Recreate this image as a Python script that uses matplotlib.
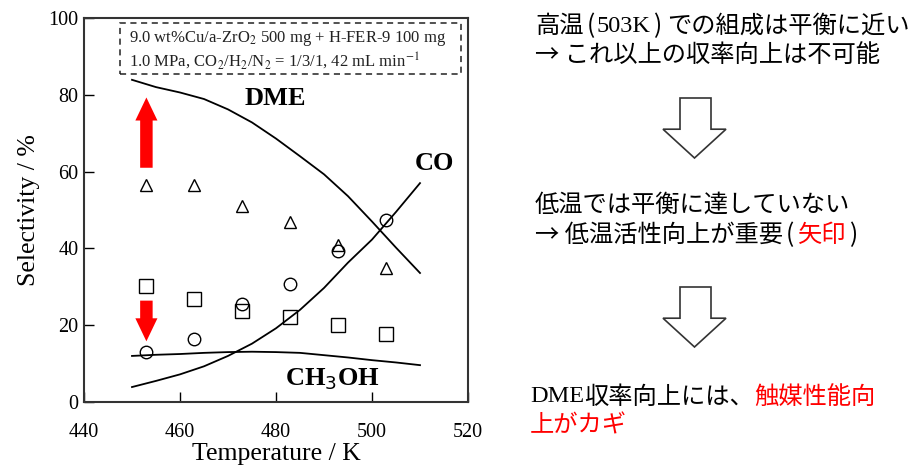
import matplotlib
matplotlib.use("Agg")
import matplotlib.pyplot as plt
from matplotlib.patches import FancyArrow, Polygon, Rectangle

# ---- data ----
temp_exp = [453, 463, 473, 483, 493, 503]
dme_sel = [56.5, 56.5, 51.0, 47.0, 40.8, 35.0]
co_sel = [13.0, 16.4, 25.5, 30.7, 39.3, 47.4]
meoh_sel = [30.2, 26.8, 23.7, 22.2, 20.0, 17.7]

temp_eq = [450, 455, 460, 465, 470, 475, 480, 485, 490, 495, 500, 505, 510]
dme_eq = [83.9, 82.0, 80.6, 78.9, 76.2, 72.8, 68.6, 64.0, 59.3, 53.6, 47.0, 40.2, 33.6]
co_eq = [3.9, 5.5, 7.2, 9.3, 12.0, 15.2, 19.2, 24.0, 29.7, 36.3, 42.3, 49.5, 57.0]
meoh_eq = [12.0, 12.3, 12.5, 12.8, 13.0, 13.1, 13.0, 12.8, 12.2, 11.6, 10.9, 10.3, 9.6]

xticks = [440, 460, 480, 500, 520]
yticks = [0, 20, 40, 60, 80, 100]

serif = ["Liberation Serif", "DejaVu Serif"]
jpc = ["Noto Sans CJK JP", "DejaVu Sans"]

fig = plt.figure(figsize=(9.13, 4.66), dpi=100)
ax = fig.add_axes([0.092, 0.1373, 0.4206, 0.8241])

ax.plot(temp_eq, dme_eq, color="black", lw=1.3)
ax.plot(temp_eq, co_eq, color="black", lw=1.3)
ax.plot(temp_eq, meoh_eq, color="black", lw=1.3)

ax.plot(temp_exp, dme_sel, ls="none", marker="^", ms=8, mfc="white", mec="black", mew=1.0)
ax.plot(temp_exp, co_sel, ls="none", marker="o", ms=9, mfc="none", mec="black", mew=1.0)
ax.plot(temp_exp, meoh_sel, ls="none", marker="s", ms=10, mfc="none", mec="black", mew=1.0)

ax.set_xlim(440, 520)
ax.set_ylim(0, 100)
ax.set_xticks(xticks)
ax.set_yticks(yticks)
ax.tick_params(axis="x", direction="in", length=7, width=1, labelsize=14.5, pad=15)
ax.tick_params(axis="y", direction="in", length=7, width=1, labelsize=14.5, pad=4)
for lab in ax.get_xticklabels() + ax.get_yticklabels():
    lab.set_family(serif)
for s in ax.spines.values():
    s.set_linewidth(1.5)
    s.set_color("#333333")

ax.set_xlabel("Temperature / K", family=serif, fontsize=18.5, labelpad=1)
ax.set_ylabel("Selectivity / %", family=serif, fontsize=18.5, labelpad=6)

ax.text(479.8, 79.0, "DME", family=serif, fontsize=19, fontweight="bold", ha="center", va="center")
ax.text(513.0, 62.0, "CO", family=serif, fontsize=19, fontweight="bold", ha="center", va="center")
ax.text(491.8, 6.0, r"CH$_3$OH", family=serif, fontsize=19, fontweight="bold", ha="center", va="center")

# dashed condition box
ax.add_patch(Rectangle((447.5, 85.3), 71.0, 13.3, fill=False, ls=(0, (4, 3)), lw=1.1, ec="#222222"))
ax.text(449.4, 94.6, "9.0 wt%Cu/a-ZrO$_2$ 500 mg + H-FER-9 100 mg",
        family=serif, fontsize=12, ha="left", va="center", color="#222222",
        math_fontfamily="stix")
ax.text(449.4, 89.0, "1.0 MPa, CO$_2$/H$_2$/N$_2$ = 1/3/1, 42 mL min$^{-1}$",
        family=serif, fontsize=12, ha="left", va="center", color="#222222",
        math_fontfamily="stix")

# red arrows
ax.add_patch(FancyArrow(453, 61.0, 0, 18.3, width=2.6, head_width=4.6, head_length=6.0,
                        length_includes_head=True, color="red", lw=0))
ax.add_patch(FancyArrow(453, 26.4, 0, -10.6, width=2.6, head_width=4.6, head_length=6.0,
                        length_includes_head=True, color="red", lw=0))

# ---- right side text ----
W, H = 913, 466
fs = 17.5
fig.canvas.draw()
r = fig.canvas.get_renderer()


def line(x, y, parts):
    """parts: list of (text, family, color, gap_after_px)"""
    cur = x
    for txt, fam, col, gap in parts:
        t = fig.text(cur / W, 1 - y / H, txt, family=fam, fontsize=fs, va="center",
                     ha="left", color=col)
        bb = t.get_window_extent(r)
        cur = bb.x1 + gap


K, R = "black", "red"
line(535, 26, [("高温", jpc, K, 3), ("(", jpc, K, 2), ("503K", serif, K, 2),
               (")", jpc, K, 6), ("での組成は平衡に近い", jpc, K, 0)])
line(535, 55, [("→ これ以上の収率向上は不可能", jpc, K, 0)])
line(535, 205, [("低温では平衡に達していない", jpc, K, 0)])
line(535, 235, [("→ 低温活性向上が重要", jpc, K, 3), ("(", jpc, K, 3), ("矢印", jpc, R, 3),
                (")", jpc, K, 0)])
line(530, 397, [("DME", serif, K, 0), ("収率向上には、", jpc, K, 0), ("触媒性能向", jpc, R, 0)])
line(530, 425, [("上がカギ", jpc, R, 0)])


# block arrows
def block_arrow(y0, y1):
    xs_l, xs_r = 680, 711
    xh_l, xh_r = 663, 726
    yh = y0 + (y1 - y0) * 0.52
    pts = [(xs_l, y0), (xs_r, y0), (xs_r, yh), (xh_r, yh), ((xh_l + xh_r) / 2, y1),
           (xh_l, yh), (xs_l, yh)]
    pts = [(x / W, 1 - y / H) for x, y in pts]
    fig.patches.append(Polygon(pts, closed=True, fc="white", ec="#333333", lw=1.2,
                               transform=fig.transFigure, figure=fig))


block_arrow(98, 158)
block_arrow(287, 347)

fig.savefig("out.png", dpi=100)
